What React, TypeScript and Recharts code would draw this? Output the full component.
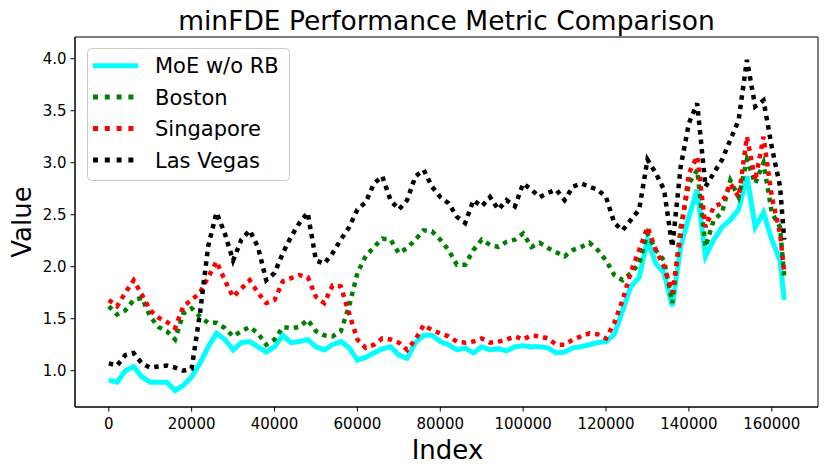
import React from 'react';
import { LineChart, Line, XAxis, YAxis, Legend, ReferenceArea } from 'recharts';

const indexValues = [
  0, 2000, 4000, 6000, 8000, 10000, 12000, 14000, 16000, 18000,
  20000, 22000, 24000, 26000, 28000, 30000, 32000, 34000, 36000, 38000,
  40000, 42000, 44000, 46000, 48000, 50000, 52000, 54000, 56000, 58000,
  60000, 62000, 64000, 66000, 68000, 70000, 72000, 74000, 76000, 78000,
  80000, 82000, 84000, 86000, 88000, 90000, 92000, 94000, 96000, 98000,
  100000, 102000, 104000, 106000, 108000, 110000, 112000, 114000, 116000, 118000,
  120000, 122000, 124000, 126000, 128000, 130000, 132000, 134000, 136000, 138000,
  140000, 142000, 144000, 146000, 148000, 150000, 152000, 154000, 156000, 158000,
  160000, 162000, 163000,
];

const moeValues = [
  0.91, 0.89, 1.0, 1.04, 0.94, 0.89, 0.89, 0.89, 0.81, 0.86,
  0.94, 1.07, 1.23, 1.36, 1.3, 1.2, 1.27, 1.28, 1.23, 1.18,
  1.23, 1.34, 1.27, 1.28, 1.3, 1.23, 1.2, 1.25, 1.28, 1.22,
  1.1, 1.13, 1.17, 1.21, 1.23, 1.15, 1.12, 1.27, 1.34, 1.34,
  1.28, 1.25, 1.2, 1.22, 1.17, 1.23, 1.2, 1.21, 1.19, 1.23,
  1.24, 1.23, 1.23, 1.22, 1.17, 1.18, 1.22, 1.23, 1.25, 1.27,
  1.28, 1.35, 1.58, 1.81, 1.9, 2.26, 2.03, 1.94, 1.62, 2.19,
  2.48, 2.74, 2.1, 2.26, 2.38, 2.45, 2.55, 2.87, 2.38, 2.52,
  2.26, 2.06, 1.68,
];

const bostonValues = [
  1.62, 1.54, 1.58, 1.68, 1.7, 1.52, 1.42, 1.38, 1.3, 1.55,
  1.6, 1.52, 1.46, 1.46, 1.41, 1.33, 1.38, 1.42, 1.36, 1.25,
  1.3, 1.42, 1.41, 1.42, 1.49, 1.38, 1.34, 1.33, 1.38, 1.62,
  1.94, 2.1, 2.19, 2.27, 2.26, 2.13, 2.18, 2.26, 2.35, 2.34,
  2.26, 2.16, 2.02, 2.02, 2.16, 2.26, 2.21, 2.19, 2.24, 2.26,
  2.32, 2.19, 2.23, 2.18, 2.14, 2.1, 2.16, 2.19, 2.23, 2.16,
  2.06, 1.92, 1.87, 1.94, 2.03, 2.32, 2.16, 2.06, 1.65, 2.38,
  2.8, 2.93, 2.19, 2.45, 2.52, 2.83, 2.67, 3.03, 2.8, 3.0,
  2.52, 2.38, 1.9,
];

const singaporeValues = [
  1.68, 1.62, 1.75, 1.87, 1.73, 1.58, 1.51, 1.47, 1.41, 1.62,
  1.68, 1.75, 1.9, 2.05, 1.87, 1.71, 1.79, 1.87, 1.75, 1.65,
  1.68, 1.86, 1.89, 1.92, 1.9, 1.71, 1.65, 1.82, 1.81, 1.55,
  1.3, 1.22, 1.25, 1.31, 1.3, 1.27, 1.2, 1.3, 1.44, 1.39,
  1.36, 1.33, 1.28, 1.27, 1.28, 1.31, 1.27, 1.28, 1.3, 1.33,
  1.3, 1.34, 1.33, 1.31, 1.25, 1.25, 1.3, 1.33, 1.36, 1.35,
  1.31, 1.46, 1.68, 1.95, 2.16, 2.38, 2.16, 2.0, 1.75, 2.3,
  2.9, 3.06, 2.38, 2.58, 2.61, 2.8, 2.67, 3.25, 2.83, 3.25,
  2.67, 2.32, 1.94,
];

const lasVegasValues = [
  1.07, 1.05, 1.15, 1.17, 1.07, 1.03, 1.04, 1.05, 1.03, 1.0,
  1.02, 1.55, 2.2, 2.52, 2.32, 2.06, 2.26, 2.35, 2.19, 1.87,
  1.94, 2.13, 2.29, 2.42, 2.52, 2.06, 2.03, 2.13, 2.26, 2.38,
  2.55, 2.62, 2.8, 2.87, 2.64, 2.55, 2.64, 2.87, 2.93, 2.77,
  2.67, 2.61, 2.48, 2.42, 2.64, 2.58, 2.67, 2.55, 2.64, 2.58,
  2.8, 2.74, 2.67, 2.71, 2.74, 2.64, 2.77, 2.8, 2.77, 2.74,
  2.67, 2.42, 2.35, 2.45, 2.55, 3.03, 2.9, 2.74, 2.19, 2.96,
  3.38, 3.57, 2.77, 2.9, 3.03, 3.22, 3.41, 3.99, 3.54, 3.6,
  3.15, 2.77, 2.26,
];

const xTicks = [0, 20000, 40000, 60000, 80000, 100000, 120000, 140000, 160000];
const yTicks = [1.0, 1.5, 2.0, 2.5, 3.0, 3.5, 4.0];

const seriesNames = ['MoE w/o RB', 'Boston', 'Singapore', 'Las Vegas'];
const seriesKeys = ['moe', 'boston', 'singapore', 'lasVegas'];
const seriesColors = ['#00ffff', '#008000', '#ff0000', '#000000'];

const rows = indexValues.map((x, i) => ({
  x,
  moe: moeValues[i],
  boston: bostonValues[i],
  singapore: singaporeValues[i],
  lasVegas: lasVegasValues[i],
}));

const FONT = '"DejaVu Sans", sans-serif';
const X_DOMAIN: [number, number] = [-8150, 171150];
const Y_DOMAIN: [number, number] = [0.651, 4.209];
const LEGEND_DASH = '5 6.8';
const PLOT_DASH = '4.5 5';

const renderLegend = () => (
  <svg width={204} height={134} style={{ display: 'block' }}>
    <rect x={0.5} y={0.5} width={202} height={132} rx={4} ry={4} fill="#ffffff" fillOpacity={0.8} stroke="#cccccc" strokeWidth={1} />
    {seriesNames.map((name, i) => {
      const cy = 17.7 + i * 31.4;
      return (
        <g key={name}>
          <line
            x1={6}
            x2={51}
            y1={cy}
            y2={cy}
            stroke={seriesColors[i]}
            strokeWidth={5}
            strokeDasharray={i === 0 ? undefined : LEGEND_DASH}
          />
          <text x={68} y={cy + 7.6} fontSize={21} fontFamily={FONT} fill="#000">
            {name}
          </text>
        </g>
      );
    })}
  </svg>
);

export default function App() {
  return (
    <div style={{ position: 'absolute', left: 0, top: 0, width: 830, height: 474, background: '#fff' }}>
      <LineChart
        width={830}
        height={474}
        data={rows}
        margin={{ top: 37, right: 12, bottom: 0, left: 0 }}
      >
        <XAxis
          dataKey="x"
          type="number"
          domain={X_DOMAIN}
          ticks={xTicks}
          allowDataOverflow
          height={67}
          tickSize={4.5}
          tickMargin={7}
          axisLine={{ stroke: '#000', strokeWidth: 1 }}
          tickLine={{ stroke: '#000', strokeWidth: 1 }}
          tick={{ fill: '#000', fontSize: 15, fontFamily: FONT }}
          tickFormatter={(v: number) => String(v)}
        />
        <YAxis
          type="number"
          domain={Y_DOMAIN}
          ticks={yTicks}
          allowDataOverflow
          width={75}
          tickSize={4.5}
          tickMargin={4}
          axisLine={{ stroke: '#000', strokeWidth: 1 }}
          tickLine={{ stroke: '#000', strokeWidth: 1 }}
          tick={{ fill: '#000', fontSize: 15, fontFamily: FONT }}
          tickFormatter={(v: number) => v.toFixed(1)}
        />
        <ReferenceArea
          x1={X_DOMAIN[0]}
          x2={X_DOMAIN[1]}
          y1={Y_DOMAIN[0]}
          y2={Y_DOMAIN[1]}
          fill="none"
          stroke="#000"
          strokeWidth={1}
          ifOverflow="visible"
        />
        {seriesKeys.map((k, i) => (
          <Line
            key={k}
            dataKey={k}
            name={seriesNames[i]}
            type="linear"
            stroke={seriesColors[i]}
            strokeWidth={i === 0 ? 5 : 4.5}
            strokeDasharray={i === 0 ? undefined : PLOT_DASH}
            dot={false}
            activeDot={false}
            isAnimationActive={false}
          />
        ))}
        <Legend
          layout="horizontal"
          verticalAlign="middle"
          align="center"
          content={renderLegend}
          wrapperStyle={{ left: 87, top: 48, width: 204, height: 134 }}
        />
      </LineChart>
      <svg
        width={830}
        height={474}
        style={{ position: 'absolute', left: 0, top: 0, pointerEvents: 'none' }}
      >
        <text x={446.5} y={29.5} textAnchor="middle" fontSize={26.5} fontFamily={FONT} fill="#000">
          minFDE Performance Metric Comparison
        </text>
        <text x={447.5} y={459} textAnchor="middle" fontSize={26} fontFamily={FONT} fill="#000">
          Index
        </text>
        <text
          x={0}
          y={0}
          transform="translate(31,222) rotate(-90)"
          textAnchor="middle"
          fontSize={26}
          fontFamily={FONT}
          fill="#000"
        >
          Value
        </text>
      </svg>
    </div>
  );
}
